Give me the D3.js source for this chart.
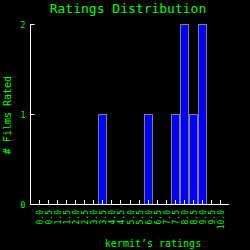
<!DOCTYPE html>
<meta charset="utf-8">
<style>
body { margin: 0; background: #000; }
text { font-family: "DejaVu Sans Mono", monospace; fill: #00ff00; }
</style>
<body>
<script src="https://d3js.org/d3.v7.min.js"></script>
<script>
// rating categories and counts
var ratings = ["0.0","0.5","1.0","1.5","2.0","2.5","3.0","3.5","4.0","4.5","5.0",
               "5.5","6.0","6.5","7.0","7.5","8.0","8.5","9.0","9.5","10.0"];
var counts  = [0,0,0,0,0,0,0,1,0,0,0,0,1,0,0,1,2,1,2,0,0];
var yTicks  = [0, 1, 2];

var W = 250, H = 250;
var plotLeft = 30.5, plotRight = 229, plotTop = 24, plotBottom = 204;

var svg = d3.select("body").append("svg")
    .attr("width", W)
    .attr("height", H)
    .style("background", "#000");

var data = ratings.map(function(r, i) { return { rating: r, count: counts[i] }; });

// set the ranges
var x = d3.scaleBand().domain(ratings).range([35, 224]).paddingInner(1 / 9);
var y = d3.scaleLinear().domain([0, 2]).range([plotBottom, plotTop]);

// bars
svg.selectAll(".bar")
    .data(data.filter(function(d) { return d.count > 0; }))
    .enter().append("rect")
    .attr("x", function(d) { return Math.round(x(d.rating)) + 0.5; })
    .attr("y", function(d) { return y(d.count) + 0.5; })
    .attr("width", 8)
    .attr("height", function(d) { return plotBottom - y(d.count); })
    .attr("fill", "#0000ff")
    .attr("stroke", "#808080")
    .attr("stroke-width", 1);

// x axis ticks and labels
var xt = svg.append("g");
ratings.forEach(function(r) {
    var cx = Math.round(x(r) + x.bandwidth() / 2) + 0.5;
    xt.append("line")
        .attr("x1", cx).attr("x2", cx)
        .attr("y1", plotBottom).attr("y2", plotBottom - 4)
        .attr("stroke", "#fff");
    xt.append("text")
        .attr("transform", "translate(" + (cx + 3) + "," + (plotBottom + 6) + ") rotate(-90)")
        .attr("text-anchor", "end")
        .style("font-size", "8px")
        .text(r);
});

// y axis ticks and labels
yTicks.forEach(function(t) {
    var yy = Math.round(y(t)) + 0.5;
    svg.append("line")
        .attr("x1", plotLeft).attr("x2", plotLeft + 4)
        .attr("y1", yy).attr("y2", yy)
        .attr("stroke", "#fff");
    svg.append("text")
        .attr("x", 23)
        .attr("y", yy + 3)
        .attr("text-anchor", "middle")
        .style("font-size", "8px")
        .text(t);
});

// axis lines
svg.append("line")
    .attr("x1", plotLeft).attr("x2", plotLeft)
    .attr("y1", plotTop).attr("y2", plotBottom + 0.5)
    .attr("stroke", "#fff");
svg.append("line")
    .attr("x1", plotLeft).attr("x2", plotRight)
    .attr("y1", plotBottom + 0.5).attr("y2", plotBottom + 0.5)
    .attr("stroke", "#fff");

// title
svg.append("text")
    .attr("x", 128)
    .attr("y", 13)
    .attr("text-anchor", "middle")
    .style("font-size", "13px")
    .text("Ratings Distribution");

// x label
svg.append("text")
    .attr("x", 153)
    .attr("y", 247)
    .attr("text-anchor", "middle")
    .style("font-size", "10px")
    .text("kermit\u2019s ratings");

// y label
svg.append("text")
    .attr("transform", "translate(11,115) rotate(-90)")
    .attr("text-anchor", "middle")
    .style("font-size", "10px")
    .text("# Films Rated");
</script>
</body>
